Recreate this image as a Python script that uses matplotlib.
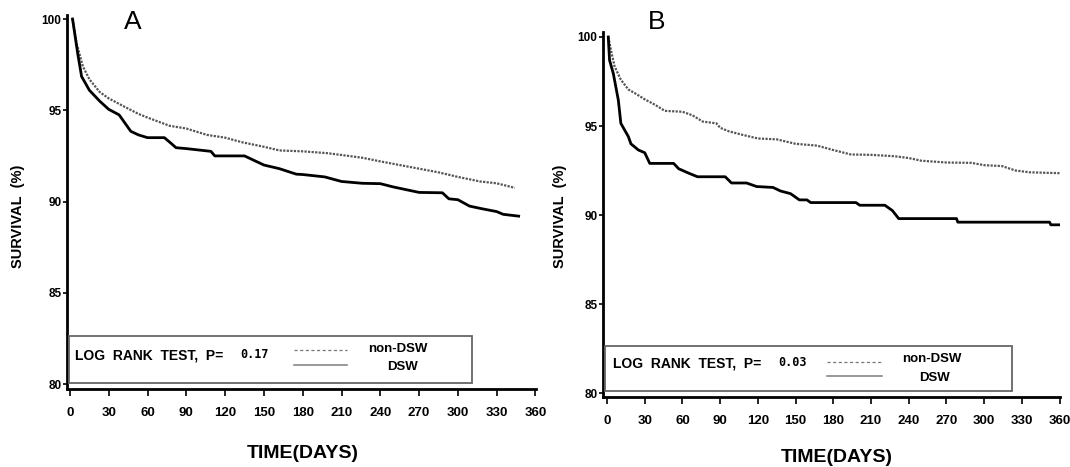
import matplotlib.pyplot as plt
from matplotlib.lines import Line2D
from matplotlib.patches import Rectangle

plt.rcParams['font.family'] = ['Liberation Sans', 'DejaVu Sans']

W, H = 1070, 467

# панель A: время (дни) и выживаемость (%)
a_non_days = [2, 5, 10, 15, 23, 30, 42, 53, 60, 77, 90, 106, 120, 133, 150, 162, 180, 199,
              210, 226, 240, 255, 270, 285, 300, 317, 330, 344]
a_non_surv = [100, 98.7, 97.4, 96.7, 96.0, 95.65, 95.2, 94.8, 94.6, 94.15, 94.0, 93.65, 93.5,
              93.25, 93.0, 92.8, 92.75, 92.65, 92.55, 92.4, 92.2, 92.0, 91.8, 91.6, 91.35,
              91.1, 91.0, 90.75]
a_dsw_days = [2, 6, 9, 15, 23, 30, 38, 47, 53, 60, 73, 78, 82, 90, 109, 112, 120, 135, 141,
              150, 162, 175, 180, 197, 210, 226, 240, 250, 260, 270, 288, 293, 300, 309, 319,
              330, 335, 347]
a_dsw_surv = [100, 98.1, 96.85, 96.1, 95.5, 95.05, 94.75, 93.85, 93.65, 93.5, 93.5, 93.2,
              92.95, 92.9, 92.75, 92.5, 92.5, 92.5, 92.3, 92.0, 91.8, 91.5, 91.48, 91.35, 91.1,
              91.0, 90.98, 90.8, 90.65, 90.5, 90.48, 90.15, 90.1, 89.75, 89.6, 89.45, 89.3, 89.2]

# панель B
b_non_days = [1, 3, 6, 11, 17, 22, 30, 38, 46, 60, 68, 76, 87, 90, 97, 108, 120, 135, 150,
              167, 180, 194, 210, 229, 240, 250, 270, 290, 300, 314, 325, 336, 360]
b_non_surv = [100, 99.3, 98.35, 97.6, 97.05, 96.85, 96.5, 96.2, 95.85, 95.8, 95.6, 95.25,
              95.15, 94.9, 94.7, 94.5, 94.3, 94.25, 94.0, 93.9, 93.65, 93.4, 93.38, 93.3, 93.2,
              93.05, 92.95, 92.93, 92.8, 92.75, 92.5, 92.4, 92.35]
b_dsw_days = [1, 2, 5, 9, 11, 17, 19, 25, 30, 34, 53, 57, 65, 72, 94, 99, 111, 119, 132, 138,
              146, 153, 159, 162, 198, 201, 221, 227, 232, 278, 279, 352, 353, 361]
b_dsw_surv = [100, 98.7, 97.95, 96.45, 95.15, 94.4, 94.0, 93.65, 93.5, 92.9, 92.9, 92.6,
              92.35, 92.15, 92.15, 91.8, 91.8, 91.6, 91.55, 91.35, 91.2, 90.85, 90.85, 90.7,
              90.7, 90.55, 90.55, 90.25, 89.8, 89.8, 89.6, 89.6, 89.45, 89.45]

x_ticks = list(range(0, 361, 30))
y_ticks = [80, 85, 90, 95, 100]


def px(x, y):
    return x / W, 1 - y / H


fig = plt.figure(figsize=(W / 100, H / 100), dpi=100)

panels = [
    # (ось в пикселях, пределы, данные, подписи)
    dict(box=(67, 536, 15, 389), xlim=(-2.3, 360.4), ylim=(79.73, 100.22),
         non=(a_non_days, a_non_surv), dsw=(a_dsw_days, a_dsw_surv),
         letter='A', letter_xy=(133, 22), ylab_x=18, xlab_xy=(303, 453), p='0.17',
         leg=(69, 472, 336, 383), txt_xy=(75, 355), p_x=240,
         line_x=(294, 347), dash_y=350, solid_y=365, non_xy=(398, 349), dsw_xy=(402, 367)),
    dict(box=(603, 1060, 32, 397), xlim=(-3.2, 360.3), ylim=(79.78, 100.28),
         non=(b_non_days, b_non_surv), dsw=(b_dsw_days, b_dsw_surv),
         letter='B', letter_xy=(657, 22), ylab_x=560, xlab_xy=(837, 458), p='0.03',
         leg=(605, 1012, 346, 391), txt_xy=(613, 363), p_x=778,
         line_x=(827, 882), dash_y=362, solid_y=376, non_xy=(932, 359), dsw_xy=(935, 378)),
]

for p in panels:
    l, r, t, b = p['box']
    ax = fig.add_axes([l / W, 1 - b / H, (r - l) / W, (b - t) / H])
    ax.plot(*p['non'], color='#555555', lw=1.6, ls=(0, (1, 0.6)))
    ax.plot(*p['dsw'], color='black', lw=2.0)
    ax.set_xlim(*p['xlim'])
    ax.set_ylim(*p['ylim'])
    ax.set_xticks(x_ticks)
    ax.set_yticks(y_ticks)
    for s in ['top', 'right']:
        ax.spines[s].set_visible(False)
    for s in ['left', 'bottom']:
        ax.spines[s].set_linewidth(2)
    ax.tick_params(axis='x', direction='out', length=5, width=1.2, pad=8, labelsize=9.5)
    ax.tick_params(axis='y', direction='out', length=3, width=1.2, pad=1, labelsize=8.5)
    for lab in ax.get_xticklabels() + ax.get_yticklabels():
        lab.set_fontweight('bold')

    # рамка с log-rank тестом
    x0, y0 = px(p['leg'][0], p['leg'][3])
    x1, y1 = px(p['leg'][1], p['leg'][2])
    fig.patches.append(Rectangle((x0, y0), x1 - x0, y1 - y0, transform=fig.transFigure,
                                 fill=False, ec='#666666', lw=1.3))
    fig.text(*px(*p['txt_xy']), 'LOG  RANK  TEST,  P=', fontsize=10, fontweight='bold',
             va='center', ha='left')
    fig.text(*px(p['p_x'], p['txt_xy'][1]), p['p'], fontsize=8.5, fontweight='bold',
             family='DejaVu Sans Mono', va='center', ha='left')
    lx0, _ = px(p['line_x'][0], 0)
    lx1, _ = px(p['line_x'][1], 0)
    fig.lines.append(Line2D([lx0, lx1], [px(0, p['dash_y'])[1]] * 2, transform=fig.transFigure,
                            color='#777777', lw=0.9, ls=(0, (2.5, 2))))
    fig.lines.append(Line2D([lx0, lx1], [px(0, p['solid_y'])[1]] * 2, transform=fig.transFigure,
                            color='#888888', lw=1.2))
    fig.text(*px(*p['non_xy']), 'non-DSW', fontsize=9.5, fontweight='bold', ha='center', va='center')
    fig.text(*px(*p['dsw_xy']), 'DSW', fontsize=9.5, fontweight='bold', ha='center', va='center')

    fig.text(*px(*p['letter_xy']), p['letter'], fontsize=19, ha='center', va='center')
    fig.text(*px(p['ylab_x'], 216), 'SURVIVAL  (%)', fontsize=10.5, fontweight='bold',
             rotation=90, ha='center', va='center')
    fig.text(*px(*p['xlab_xy']), 'TIME(DAYS)', fontsize=14, fontweight='bold',
             ha='center', va='center')

fig.savefig('out.png', dpi=100)
